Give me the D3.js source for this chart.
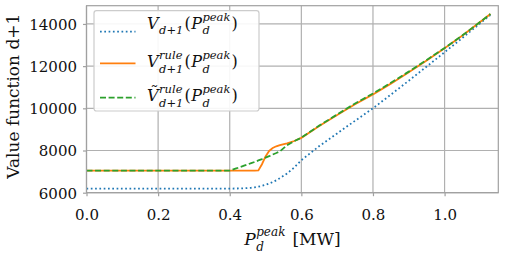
<!DOCTYPE html>
<html>
<head>
<meta charset="utf-8">
<script src="https://cdn.jsdelivr.net/npm/d3@7"></script>
<style>
  body { margin: 0; background: #fff; }
  svg { display: block; font-family: "DejaVu Serif", serif; }
</style>
</head>
<body>
<div id="chart"></div>
<script>
// --- DATA ---
const pPeak = [0, 0.1, 0.2, 0.3, 0.4, 0.42, 0.44, 0.46, 0.47, 0.48, 0.49, 0.50, 0.51, 0.52, 0.53, 0.54,
               0.56, 0.58, 0.60, 0.65, 0.70, 0.75, 0.80, 0.85, 0.90, 0.95, 1.00, 1.05, 1.10, 1.128];
const vExact = [6190, 6190, 6190, 6190, 6195, 6200, 6210, 6235, 6255, 6285, 6325, 6375, 6435, 6505, 6590, 6690,
                6910, 7190, 7540, 8210, 8810, 9410, 10000, 10650, 11310, 11980, 12660, 13340, 14040, 14430];
const vRule = [7050, 7050, 7050, 7050, 7050, 7050, 7050, 7050, 7050, 7060, 7350, 7720, 7980, 8120, 8200, 8260,
               8340, 8450, 8600, 9160, 9680, 10190, 10660, 11170, 11710, 12270, 12850, 13450, 14100, 14470];
const vRuleApprox = [7050, 7050, 7050, 7050, 7050, 7160, 7280, 7400, 7460, 7530, 7590, 7660, 7730, 7810, 7880, 7960,
                     8250, 8440, 8610, 9180, 9710, 10230, 10700, 11210, 11740, 12290, 12860, 13460, 14100, 14470];

const xTicks = [0, 0.2, 0.4, 0.6, 0.8, 1.0];
const yTicks = [6000, 8000, 10000, 12000, 14000];

// --- SETUP ---
const W = 509, H = 255;
const margin = {top: 5.7, right: 10.7, bottom: 62.3, left: 86.5};
const width = W - margin.left - margin.right;
const height = H - margin.top - margin.bottom;

const svgRoot = d3.select("#chart").append("svg").attr("width", W).attr("height", H);
const svg = svgRoot.append("g").attr("transform", `translate(${margin.left},${margin.top})`);

const x = d3.scaleLinear().domain([0, 1.15]).range([0, width]);
const y = d3.scaleLinear().domain([6000, 14865]).range([height, 0]);

const gridColor = "#b0b0b0";

// Grid
svg.append("g").selectAll("line").data(xTicks).enter().append("line")
    .attr("x1", d => x(d)).attr("x2", d => x(d)).attr("y1", 0).attr("y2", height)
    .attr("stroke", gridColor).attr("stroke-width", 1.2);
svg.append("g").selectAll("line").data(yTicks).enter().append("line")
    .attr("x1", 0).attr("x2", width).attr("y1", d => y(d)).attr("y2", d => y(d))
    .attr("stroke", gridColor).attr("stroke-width", 1.2);

// --- LIJNEN ---
const series = [
    {vals: vExact, color: "#1f77b4", dash: "1.7,2.6"},
    {vals: vRule, color: "#ff7f0e", dash: null},
    {vals: vRuleApprox, color: "#2ca02c", dash: "6,2.6"}
];
const line = d3.line().x((d, i) => x(pPeak[i])).y(d => y(d));
series.forEach(s => {
    svg.append("path").datum(s.vals)
        .attr("d", line)
        .attr("fill", "none")
        .attr("stroke", s.color)
        .attr("stroke-width", 1.8)
        .attr("stroke-dasharray", s.dash);
});

// Frame
svg.append("rect").attr("width", width).attr("height", height)
    .attr("fill", "none").attr("stroke", "#a0a0a0").attr("stroke-width", 1.2);

// --- ASSEN ---
const xAxis = svg.append("g").attr("transform", `translate(0,${height})`)
    .call(d3.axisBottom(x).tickValues(xTicks).tickSize(3.5).tickPadding(0).tickFormat(d3.format(".1f")));
xAxis.selectAll("text").attr("dy", null).attr("y", 27);
const yAxis = svg.append("g")
    .call(d3.axisLeft(y).tickValues(yTicks).tickSize(3.5).tickPadding(6).tickFormat(d3.format("d")));
yAxis.selectAll("text").attr("dy", "0.36em");
svg.selectAll(".domain").remove();
svg.selectAll(".tick line").attr("stroke", "#a0a0a0").attr("stroke-width", 1.2);
svg.selectAll(".tick text").attr("font-family", "DejaVu Serif").attr("font-size", 15).attr("fill", "#111");

// Y label
svgRoot.append("text")
    .attr("transform", `translate(19,${margin.top + height / 2 - 3}) rotate(-90)`)
    .attr("text-anchor", "middle").attr("font-size", 17).attr("fill", "#111")
    .text("Value function d+1");

// --- WISKUNDE-TEKST (een <text> met tspans, sub/sup gestapeld) ---
function mathText(g, x0, y0, parts) {
    const t = g.append("text").attr("fill", "#111");
    let cx = x0;
    parts.forEach(p => {
        const items = p.stack || [p];
        let w = 0;
        items.forEach(it => {
            const ts = t.append("tspan")
                .attr("x", cx).attr("y", y0 + (it.dy || 0))
                .attr("font-size", it.size || 14)
                .attr("font-style", it.it ? "italic" : "normal")
                .text(it.s);
            w = Math.max(w, ts.node().getComputedTextLength());
        });
        cx += w + (p.gap || 0);
    });
    return {node: t, width: cx - x0};
}

const pPart = [
    {s: "(", size: 16, gap: 0.5},
    {s: "P", it: true, size: 16, gap: 0.5},
    {stack: [{s: "peak", it: true, size: 11.5, dy: -8}, {s: "d", it: true, size: 11.5, dy: 5.8}], gap: 1},
    {s: ")", size: 16}
];

// X label
const xlParts = [
    {s: "P", it: true, size: 17, gap: 0.5},
    {stack: [{s: "peak", it: true, size: 12, dy: -9}, {s: "d", it: true, size: 12, dy: 5.5}], gap: 7},
    {s: "[MW]", size: 17}
];
const probe = mathText(svgRoot, 0, 0, xlParts);
probe.node.remove();
mathText(svgRoot, margin.left + width / 2 - probe.width / 2, 245, xlParts);

// --- LEGENDA ---
const legendLabels = [
    [{s: "V", it: true, size: 16, gap: 0.5}, {s: "d+1", it: true, size: 11.5, dy: 5.8, gap: 1}],
    [{s: "V", it: true, size: 16, gap: 0.5}, {stack: [{s: "rule", it: true, size: 11.5, dy: -8.5}, {s: "d+1", it: true, size: 11.5, dy: 5.8}], gap: 1}],
    [{s: "V\u0303", it: true, size: 16, gap: 0.5}, {stack: [{s: "rule", it: true, size: 11.5, dy: -8.5}, {s: "d+1", it: true, size: 11.5, dy: 5.8}], gap: 1}]
];
const legend = svgRoot.append("g");
legend.append("rect")
    .attr("x", 94).attr("y", 10.7).attr("width", 165).attr("height", 100.3)
    .attr("rx", 2.5).attr("fill", "#fff").attr("fill-opacity", 0.9)
    .attr("stroke", "#cccccc").attr("stroke-width", 1.2);
const rowY = [31.7, 63.3, 97.7];
const rowBase = [28.5, 67, 101];
series.forEach((s, i) => {
    legend.append("line")
        .attr("x1", 100).attr("x2", 135.5).attr("y1", rowY[i]).attr("y2", rowY[i])
        .attr("stroke", s.color).attr("stroke-width", 1.8).attr("stroke-dasharray", s.dash);
    mathText(legend, 147, rowBase[i], legendLabels[i].concat(pPart));
});
</script>
</body>
</html>
